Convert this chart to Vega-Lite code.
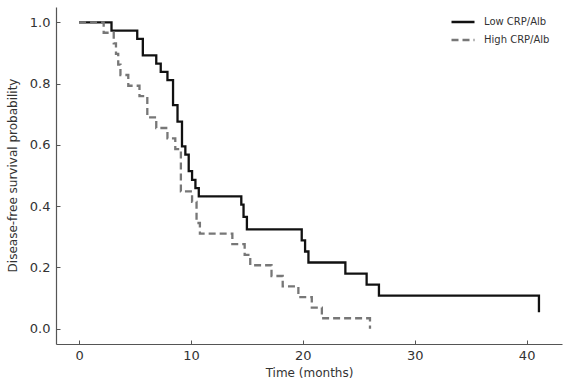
{
  "$schema": "https://vega.github.io/schema/vega-lite/v6.json",
  "autosize": "none",
  "padding": {"left": 56, "top": 7, "right": 5, "bottom": 39},
  "width": 506,
  "height": 337,
  "background": "white",
  "config": {
    "view": {"stroke": null},
    "font": "DejaVu Sans",
    "axis": {
      "grid": false,
      "domainColor": "#555",
      "domainWidth": 1.2,
      "tickColor": "#555",
      "tickWidth": 1,
      "tickSize": -4,
      "labelFont": "DejaVu Sans",
      "labelFontSize": 13,
      "labelColor": "#333",
      "titleFont": "DejaVu Sans",
      "titleFontSize": 12,
      "titleFontWeight": "normal",
      "titleColor": "#333"
    },
    "legend": {
      "symbolType": "stroke",
      "symbolSize": 529,
      "symbolStrokeWidth": 2.3,
      "labelFontSize": 10,
      "labelColor": "#333",
      "labelFont": "DejaVu Sans",
      "labelOffset": 8,
      "rowPadding": -10,
      "padding": 0
    }
  },
  "data": {
    "values": [
      {"group": "Low CRP/Alb", "t": 0, "s": 1.0},
      {"group": "Low CRP/Alb", "t": 2.9, "s": 0.973},
      {"group": "Low CRP/Alb", "t": 5.2, "s": 0.946},
      {"group": "Low CRP/Alb", "t": 5.7, "s": 0.892},
      {"group": "Low CRP/Alb", "t": 6.9, "s": 0.865},
      {"group": "Low CRP/Alb", "t": 7.3, "s": 0.838},
      {"group": "Low CRP/Alb", "t": 7.9, "s": 0.811},
      {"group": "Low CRP/Alb", "t": 8.4, "s": 0.73},
      {"group": "Low CRP/Alb", "t": 8.8, "s": 0.676},
      {"group": "Low CRP/Alb", "t": 9.2, "s": 0.595},
      {"group": "Low CRP/Alb", "t": 9.5, "s": 0.568},
      {"group": "Low CRP/Alb", "t": 9.8, "s": 0.514},
      {"group": "Low CRP/Alb", "t": 10.1, "s": 0.486},
      {"group": "Low CRP/Alb", "t": 10.4, "s": 0.459},
      {"group": "Low CRP/Alb", "t": 10.7, "s": 0.432},
      {"group": "Low CRP/Alb", "t": 14.5, "s": 0.405},
      {"group": "Low CRP/Alb", "t": 14.7, "s": 0.365},
      {"group": "Low CRP/Alb", "t": 15.0, "s": 0.324},
      {"group": "Low CRP/Alb", "t": 19.9, "s": 0.288},
      {"group": "Low CRP/Alb", "t": 20.2, "s": 0.252},
      {"group": "Low CRP/Alb", "t": 20.5, "s": 0.216},
      {"group": "Low CRP/Alb", "t": 23.8, "s": 0.18},
      {"group": "Low CRP/Alb", "t": 25.7, "s": 0.144},
      {"group": "Low CRP/Alb", "t": 26.8, "s": 0.108},
      {"group": "Low CRP/Alb", "t": 41.1, "s": 0.054},
      {"group": "High CRP/Alb", "t": 0, "s": 1.0},
      {"group": "High CRP/Alb", "t": 2.2, "s": 0.966},
      {"group": "High CRP/Alb", "t": 3.1, "s": 0.931},
      {"group": "High CRP/Alb", "t": 3.3, "s": 0.897},
      {"group": "High CRP/Alb", "t": 3.5, "s": 0.862},
      {"group": "High CRP/Alb", "t": 3.7, "s": 0.828},
      {"group": "High CRP/Alb", "t": 4.4, "s": 0.793},
      {"group": "High CRP/Alb", "t": 5.4, "s": 0.759},
      {"group": "High CRP/Alb", "t": 6.1, "s": 0.69},
      {"group": "High CRP/Alb", "t": 6.9, "s": 0.655},
      {"group": "High CRP/Alb", "t": 7.9, "s": 0.621},
      {"group": "High CRP/Alb", "t": 8.6, "s": 0.586},
      {"group": "High CRP/Alb", "t": 9.1, "s": 0.448},
      {"group": "High CRP/Alb", "t": 10.1, "s": 0.414},
      {"group": "High CRP/Alb", "t": 10.5, "s": 0.345},
      {"group": "High CRP/Alb", "t": 10.8, "s": 0.31},
      {"group": "High CRP/Alb", "t": 13.7, "s": 0.276},
      {"group": "High CRP/Alb", "t": 14.8, "s": 0.241},
      {"group": "High CRP/Alb", "t": 15.3, "s": 0.207},
      {"group": "High CRP/Alb", "t": 17.2, "s": 0.172},
      {"group": "High CRP/Alb", "t": 18.2, "s": 0.138},
      {"group": "High CRP/Alb", "t": 19.6, "s": 0.103},
      {"group": "High CRP/Alb", "t": 20.8, "s": 0.069},
      {"group": "High CRP/Alb", "t": 21.7, "s": 0.034},
      {"group": "High CRP/Alb", "t": 26.0, "s": 0.0}
    ]
  },
  "mark": {"type": "line", "interpolate": "step-after", "strokeWidth": 2.3, "clip": false},
  "encoding": {
    "x": {
      "field": "t", "type": "quantitative",
      "scale": {"domain": [-2.06, 43.16], "nice": false, "zero": false},
      "axis": {"values": [0, 10, 20, 30, 40], "title": "Time (months)", "labelPadding": 9, "titleY": 23, "titleBaseline": "top"}
    },
    "y": {
      "field": "s", "type": "quantitative",
      "scale": {"domain": [-0.05, 1.05], "nice": false, "zero": false},
      "axis": {"values": [0, 0.2, 0.4, 0.6, 0.8, 1.0], "format": ".1f", "title": "Disease-free survival probability", "labelPadding": 10, "titleX": -44, "titleY": 168, "titleAngle": -90, "titleAlign": "center", "titleBaseline": "middle"}
    },
    "color": {
      "field": "group", "type": "nominal",
      "scale": {"domain": ["Low CRP/Alb", "High CRP/Alb"], "range": ["#111111", "#777777"]},
      "legend": {"title": null, "orient": "none", "legendX": 394, "legendY": 2}
    },
    "strokeDash": {
      "field": "group", "type": "nominal",
      "scale": {"domain": ["Low CRP/Alb", "High CRP/Alb"], "range": [[1, 0], [7, 4]]},
      "legend": {"title": null, "orient": "none", "legendX": 394, "legendY": 2}
    }
  }
}
